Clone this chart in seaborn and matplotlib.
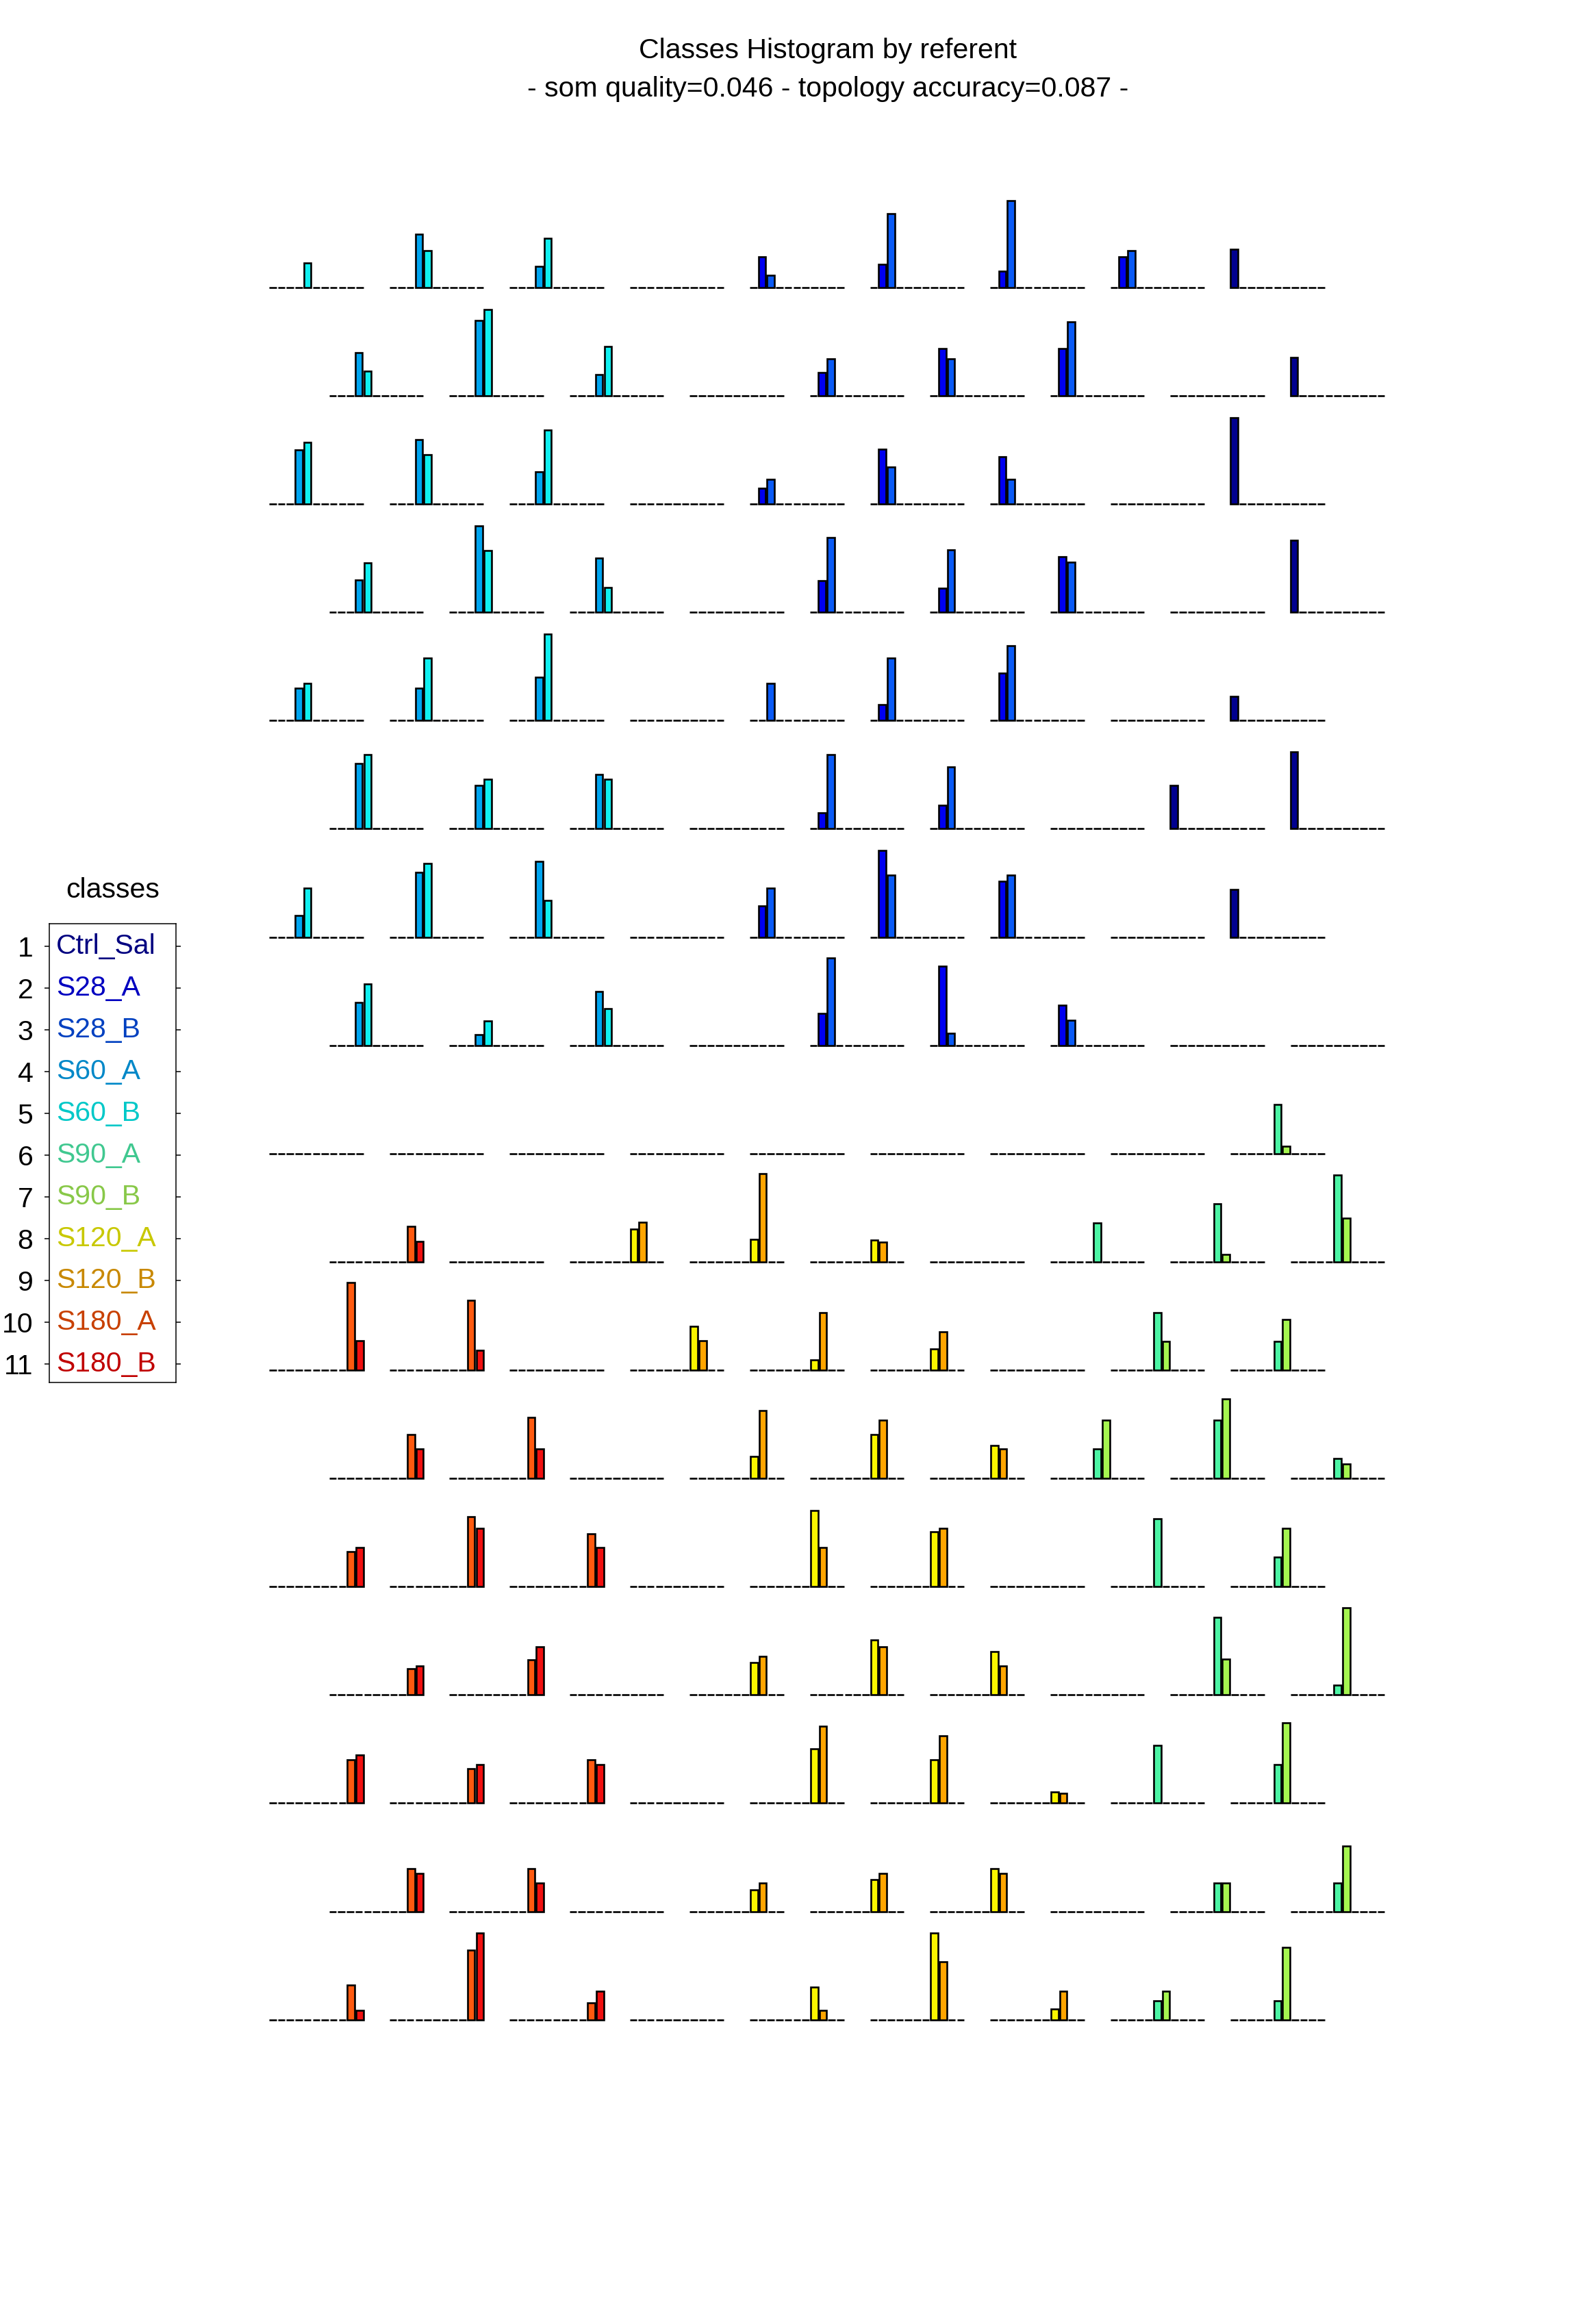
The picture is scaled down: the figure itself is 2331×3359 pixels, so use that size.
import numpy as np
import pandas as pd
import seaborn as sns
import matplotlib.pyplot as plt

# classes of the referent histogram
classes = ['Ctrl_Sal', 'S28_A', 'S28_B', 'S60_A', 'S60_B', 'S90_A',
           'S90_B', 'S120_A', 'S120_B', 'S180_A', 'S180_B']
bar_colors = ['#00008F', '#0000F0', '#0A5AF5', '#00A5F0', '#10F0F0', '#4DF5A5',
              '#A5F550', '#FAF500', '#FFA500', '#FF5A10', '#F01010']
label_colors = ['#000080', '#0000C0', '#0040C0', '#0088C8', '#00C8C8', '#40C890',
                '#88C848', '#C8C800', '#C88800', '#C84000', '#C00000']

# bar heights per class, one list of 9 referents for each of the 17 map rows
ctrl_sal = [
    [0, 0, 0, 0, 0, 0, 0, 0, 56],
    [0, 0, 0, 0, 0, 0, 0, 0, 56],
    [0, 0, 0, 0, 0, 0, 0, 0, 126],
    [0, 0, 0, 0, 0, 0, 0, 0, 105],
    [0, 0, 0, 0, 0, 0, 0, 0, 35],
    [0, 0, 0, 0, 0, 0, 0, 63, 112],
    [0, 0, 0, 0, 0, 0, 0, 0, 70],
    [0, 0, 0, 0, 0, 0, 0, 0, 0],
    [0, 0, 0, 0, 0, 0, 0, 0, 0],
    [0, 0, 0, 0, 0, 0, 0, 0, 0],
    [0, 0, 0, 0, 0, 0, 0, 0, 0],
    [0, 0, 0, 0, 0, 0, 0, 0, 0],
    [0, 0, 0, 0, 0, 0, 0, 0, 0],
    [0, 0, 0, 0, 0, 0, 0, 0, 0],
    [0, 0, 0, 0, 0, 0, 0, 0, 0],
    [0, 0, 0, 0, 0, 0, 0, 0, 0],
    [0, 0, 0, 0, 0, 0, 0, 0, 0],
]
s28_a = [
    [0, 0, 0, 0, 45, 34, 24, 45, 0],
    [0, 0, 0, 0, 34, 69, 69, 0, 0],
    [0, 0, 0, 0, 23, 80, 69, 0, 0],
    [0, 0, 0, 0, 46, 35, 81, 0, 0],
    [0, 0, 0, 0, 0, 23, 69, 0, 0],
    [0, 0, 0, 0, 23, 34, 0, 0, 0],
    [0, 0, 0, 0, 46, 127, 82, 0, 0],
    [0, 0, 0, 0, 47, 116, 59, 0, 0],
    [0, 0, 0, 0, 0, 0, 0, 0, 0],
    [0, 0, 0, 0, 0, 0, 0, 0, 0],
    [0, 0, 0, 0, 0, 0, 0, 0, 0],
    [0, 0, 0, 0, 0, 0, 0, 0, 0],
    [0, 0, 0, 0, 0, 0, 0, 0, 0],
    [0, 0, 0, 0, 0, 0, 0, 0, 0],
    [0, 0, 0, 0, 0, 0, 0, 0, 0],
    [0, 0, 0, 0, 0, 0, 0, 0, 0],
    [0, 0, 0, 0, 0, 0, 0, 0, 0],
]
s28_b = [
    [0, 0, 0, 0, 18, 108, 127, 54, 0],
    [0, 0, 0, 0, 54, 54, 108, 0, 0],
    [0, 0, 0, 0, 36, 54, 36, 0, 0],
    [0, 0, 0, 0, 109, 91, 73, 0, 0],
    [0, 0, 0, 0, 54, 91, 109, 0, 0],
    [0, 0, 0, 0, 108, 90, 0, 0, 0],
    [0, 0, 0, 0, 72, 91, 91, 0, 0],
    [0, 0, 0, 0, 128, 18, 37, 0, 0],
    [0, 0, 0, 0, 0, 0, 0, 0, 0],
    [0, 0, 0, 0, 0, 0, 0, 0, 0],
    [0, 0, 0, 0, 0, 0, 0, 0, 0],
    [0, 0, 0, 0, 0, 0, 0, 0, 0],
    [0, 0, 0, 0, 0, 0, 0, 0, 0],
    [0, 0, 0, 0, 0, 0, 0, 0, 0],
    [0, 0, 0, 0, 0, 0, 0, 0, 0],
    [0, 0, 0, 0, 0, 0, 0, 0, 0],
    [0, 0, 0, 0, 0, 0, 0, 0, 0],
]
s60_a = [
    [0, 78, 31, 0, 0, 0, 0, 0, 0],
    [63, 110, 31, 0, 0, 0, 0, 0, 0],
    [79, 94, 47, 0, 0, 0, 0, 0, 0],
    [47, 126, 79, 0, 0, 0, 0, 0, 0],
    [47, 47, 63, 0, 0, 0, 0, 0, 0],
    [95, 63, 79, 0, 0, 0, 0, 0, 0],
    [32, 95, 111, 0, 0, 0, 0, 0, 0],
    [63, 16, 79, 0, 0, 0, 0, 0, 0],
    [0, 0, 0, 0, 0, 0, 0, 0, 0],
    [0, 0, 0, 0, 0, 0, 0, 0, 0],
    [0, 0, 0, 0, 0, 0, 0, 0, 0],
    [0, 0, 0, 0, 0, 0, 0, 0, 0],
    [0, 0, 0, 0, 0, 0, 0, 0, 0],
    [0, 0, 0, 0, 0, 0, 0, 0, 0],
    [0, 0, 0, 0, 0, 0, 0, 0, 0],
    [0, 0, 0, 0, 0, 0, 0, 0, 0],
    [0, 0, 0, 0, 0, 0, 0, 0, 0],
]
s60_b = [
    [36, 54, 72, 0, 0, 0, 0, 0, 0],
    [36, 126, 72, 0, 0, 0, 0, 0, 0],
    [90, 72, 108, 0, 0, 0, 0, 0, 0],
    [72, 90, 36, 0, 0, 0, 0, 0, 0],
    [54, 91, 126, 0, 0, 0, 0, 0, 0],
    [108, 72, 72, 0, 0, 0, 0, 0, 0],
    [72, 108, 54, 0, 0, 0, 0, 0, 0],
    [90, 36, 54, 0, 0, 0, 0, 0, 0],
    [0, 0, 0, 0, 0, 0, 0, 0, 0],
    [0, 0, 0, 0, 0, 0, 0, 0, 0],
    [0, 0, 0, 0, 0, 0, 0, 0, 0],
    [0, 0, 0, 0, 0, 0, 0, 0, 0],
    [0, 0, 0, 0, 0, 0, 0, 0, 0],
    [0, 0, 0, 0, 0, 0, 0, 0, 0],
    [0, 0, 0, 0, 0, 0, 0, 0, 0],
    [0, 0, 0, 0, 0, 0, 0, 0, 0],
    [0, 0, 0, 0, 0, 0, 0, 0, 0],
]
s90_a = [
    [0, 0, 0, 0, 0, 0, 0, 0, 0],
    [0, 0, 0, 0, 0, 0, 0, 0, 0],
    [0, 0, 0, 0, 0, 0, 0, 0, 0],
    [0, 0, 0, 0, 0, 0, 0, 0, 0],
    [0, 0, 0, 0, 0, 0, 0, 0, 0],
    [0, 0, 0, 0, 0, 0, 0, 0, 0],
    [0, 0, 0, 0, 0, 0, 0, 0, 0],
    [0, 0, 0, 0, 0, 0, 0, 0, 0],
    [0, 0, 0, 0, 0, 0, 0, 0, 72],
    [0, 0, 0, 0, 0, 0, 57, 85, 127],
    [0, 0, 0, 0, 0, 0, 0, 84, 42],
    [0, 0, 0, 0, 0, 0, 43, 85, 29],
    [0, 0, 0, 0, 0, 0, 0, 99, 43],
    [0, 0, 0, 0, 0, 0, 0, 113, 14],
    [0, 0, 0, 0, 0, 0, 0, 84, 56],
    [0, 0, 0, 0, 0, 0, 0, 42, 42],
    [0, 0, 0, 0, 0, 0, 0, 28, 28],
]
s90_b = [
    [0, 0, 0, 0, 0, 0, 0, 0, 0],
    [0, 0, 0, 0, 0, 0, 0, 0, 0],
    [0, 0, 0, 0, 0, 0, 0, 0, 0],
    [0, 0, 0, 0, 0, 0, 0, 0, 0],
    [0, 0, 0, 0, 0, 0, 0, 0, 0],
    [0, 0, 0, 0, 0, 0, 0, 0, 0],
    [0, 0, 0, 0, 0, 0, 0, 0, 0],
    [0, 0, 0, 0, 0, 0, 0, 0, 0],
    [0, 0, 0, 0, 0, 0, 0, 0, 11],
    [0, 0, 0, 0, 0, 0, 0, 11, 64],
    [0, 0, 0, 0, 0, 0, 0, 42, 74],
    [0, 0, 0, 0, 0, 0, 85, 116, 21],
    [0, 0, 0, 0, 0, 0, 0, 0, 85],
    [0, 0, 0, 0, 0, 0, 0, 52, 127],
    [0, 0, 0, 0, 0, 0, 0, 0, 117],
    [0, 0, 0, 0, 0, 0, 0, 42, 96],
    [0, 0, 0, 0, 0, 0, 0, 42, 106],
]
s120_a = [
    [0, 0, 0, 0, 0, 0, 0, 0, 0],
    [0, 0, 0, 0, 0, 0, 0, 0, 0],
    [0, 0, 0, 0, 0, 0, 0, 0, 0],
    [0, 0, 0, 0, 0, 0, 0, 0, 0],
    [0, 0, 0, 0, 0, 0, 0, 0, 0],
    [0, 0, 0, 0, 0, 0, 0, 0, 0],
    [0, 0, 0, 0, 0, 0, 0, 0, 0],
    [0, 0, 0, 0, 0, 0, 0, 0, 0],
    [0, 0, 0, 0, 0, 0, 0, 0, 0],
    [0, 0, 48, 33, 32, 0, 0, 0, 0],
    [0, 0, 0, 64, 15, 31, 0, 0, 0],
    [0, 0, 0, 32, 64, 48, 0, 0, 0],
    [0, 0, 0, 0, 111, 80, 0, 0, 0],
    [0, 0, 0, 47, 80, 63, 0, 0, 0],
    [0, 0, 0, 0, 79, 63, 16, 0, 0],
    [0, 0, 0, 32, 47, 63, 0, 0, 0],
    [0, 0, 0, 0, 48, 127, 16, 0, 0],
]
s120_b = [
    [0, 0, 0, 0, 0, 0, 0, 0, 0],
    [0, 0, 0, 0, 0, 0, 0, 0, 0],
    [0, 0, 0, 0, 0, 0, 0, 0, 0],
    [0, 0, 0, 0, 0, 0, 0, 0, 0],
    [0, 0, 0, 0, 0, 0, 0, 0, 0],
    [0, 0, 0, 0, 0, 0, 0, 0, 0],
    [0, 0, 0, 0, 0, 0, 0, 0, 0],
    [0, 0, 0, 0, 0, 0, 0, 0, 0],
    [0, 0, 0, 0, 0, 0, 0, 0, 0],
    [0, 0, 58, 129, 29, 0, 0, 0, 0],
    [0, 0, 0, 43, 84, 56, 0, 0, 0],
    [0, 0, 0, 99, 85, 43, 0, 0, 0],
    [0, 0, 0, 0, 57, 85, 0, 0, 0],
    [0, 0, 0, 56, 70, 42, 0, 0, 0],
    [0, 0, 0, 0, 112, 98, 14, 0, 0],
    [0, 0, 0, 42, 56, 56, 0, 0, 0],
    [0, 0, 0, 0, 14, 85, 42, 0, 0],
]
s180_a = [
    [0, 0, 0, 0, 0, 0, 0, 0, 0],
    [0, 0, 0, 0, 0, 0, 0, 0, 0],
    [0, 0, 0, 0, 0, 0, 0, 0, 0],
    [0, 0, 0, 0, 0, 0, 0, 0, 0],
    [0, 0, 0, 0, 0, 0, 0, 0, 0],
    [0, 0, 0, 0, 0, 0, 0, 0, 0],
    [0, 0, 0, 0, 0, 0, 0, 0, 0],
    [0, 0, 0, 0, 0, 0, 0, 0, 0],
    [0, 0, 0, 0, 0, 0, 0, 0, 0],
    [52, 0, 0, 0, 0, 0, 0, 0, 0],
    [128, 102, 0, 0, 0, 0, 0, 0, 0],
    [64, 89, 0, 0, 0, 0, 0, 0, 0],
    [51, 102, 77, 0, 0, 0, 0, 0, 0],
    [38, 51, 0, 0, 0, 0, 0, 0, 0],
    [63, 50, 63, 0, 0, 0, 0, 0, 0],
    [63, 63, 0, 0, 0, 0, 0, 0, 0],
    [51, 102, 25, 0, 0, 0, 0, 0, 0],
]
s180_b = [
    [0, 0, 0, 0, 0, 0, 0, 0, 0],
    [0, 0, 0, 0, 0, 0, 0, 0, 0],
    [0, 0, 0, 0, 0, 0, 0, 0, 0],
    [0, 0, 0, 0, 0, 0, 0, 0, 0],
    [0, 0, 0, 0, 0, 0, 0, 0, 0],
    [0, 0, 0, 0, 0, 0, 0, 0, 0],
    [0, 0, 0, 0, 0, 0, 0, 0, 0],
    [0, 0, 0, 0, 0, 0, 0, 0, 0],
    [0, 0, 0, 0, 0, 0, 0, 0, 0],
    [30, 0, 0, 0, 0, 0, 0, 0, 0],
    [43, 29, 0, 0, 0, 0, 0, 0, 0],
    [43, 43, 0, 0, 0, 0, 0, 0, 0],
    [57, 85, 57, 0, 0, 0, 0, 0, 0],
    [42, 70, 0, 0, 0, 0, 0, 0, 0],
    [70, 56, 56, 0, 0, 0, 0, 0, 0],
    [56, 42, 0, 0, 0, 0, 0, 0, 0],
    [14, 127, 42, 0, 0, 0, 0, 0, 0],
]

title = 'Classes Histogram by referent'
subtitle = '- som quality=0.046 - topology accuracy=0.087 -'

counts = np.array([ctrl_sal, s28_a, s28_b, s60_a, s60_b, s90_a,
                   s90_b, s120_a, s120_b, s180_a, s180_b])
n_rows, n_cols = counts.shape[1], counts.shape[2]

sns.set_style('white', {'text.color': 'black', 'axes.edgecolor': 'black',
                        'xtick.color': 'black', 'ytick.color': 'black'})
plt.rcParams['font.family'] = ['Liberation Sans', 'DejaVu Sans']
fs = 29.5

W, H = 2331, 3359
fig = plt.figure(figsize=(W / 100, H / 100), dpi=100)

# hexagonal map layout, in pixels
x_first, col_step = 393, 175.5
y_first, row_step = 420, 158.1
slot, bar_w = 12.7, 10.6
pal = dict(zip(classes, bar_colors))

for r in range(n_rows):
    recs = []
    for c in range(n_cols):
        x0 = x_first + c * col_step + (r % 2) * col_step / 2
        for k, name in enumerate(classes):
            recs.append({'x': x0 + k * slot + bar_w / 2,
                         'count': counts[k, r, c], 'cls': name})
    df = pd.DataFrame(recs)
    base = y_first + r * row_step
    ax = fig.add_axes([0, (H - base - 10) / H, 1, row_step / H])
    # zero counts still draw their flat outline: the dashed baseline
    sns.barplot(data=df, x='x', y='count', hue='cls', hue_order=classes,
                palette=pal, native_scale=True, dodge=False, orient='x',
                width=bar_w / slot, saturation=1, errorbar=None,
                edgecolor='black', linewidth=1.9, legend=False, ax=ax)
    ax.set_xlim(0, W)
    ax.set_ylim(-10, row_step - 10)
    ax.axis('off')

fig.text(1209 / W, 1 - 74 / H, title, ha='center', va='center', fontsize=fs)
fig.text(1209 / W, 1 - 130 / H, subtitle, ha='center', va='center', fontsize=fs)

# legend box
box_l, box_r, box_t, box_b = 72, 257, 1349, 2019
row1, lrow = 1382, 61
lg = fig.add_axes([box_l / W, 1 - box_b / H, (box_r - box_l) / W, (box_b - box_t) / H])
lg.set_xlim(0, 1)
lg.set_ylim(len(classes) + (box_b - (row1 + lrow * (len(classes) - 1))) / lrow,
            1 - (row1 - box_t) / lrow)
lg.set_xticks([])
lg.set_yticks(range(1, len(classes) + 1))
lg.set_yticklabels([str(i) for i in range(1, len(classes) + 1)])
lg.tick_params(axis='y', left=True, right=True, direction='out', length=5,
               width=1.1, pad=12, labelsize=fs, colors='black')
for sp in lg.spines.values():
    sp.set_visible(True)
    sp.set_color('black')
    sp.set_linewidth(1.1)
for i, name in enumerate(classes):
    lg.text(0.055, i + 1, name, color=label_colors[i], ha='left', va='center',
            fontsize=fs)
fig.text((box_l + box_r) / 2 / W, 1 - 1300 / H, 'classes', ha='center',
         va='center', fontsize=fs)

fig.savefig('out.png', dpi=100)
